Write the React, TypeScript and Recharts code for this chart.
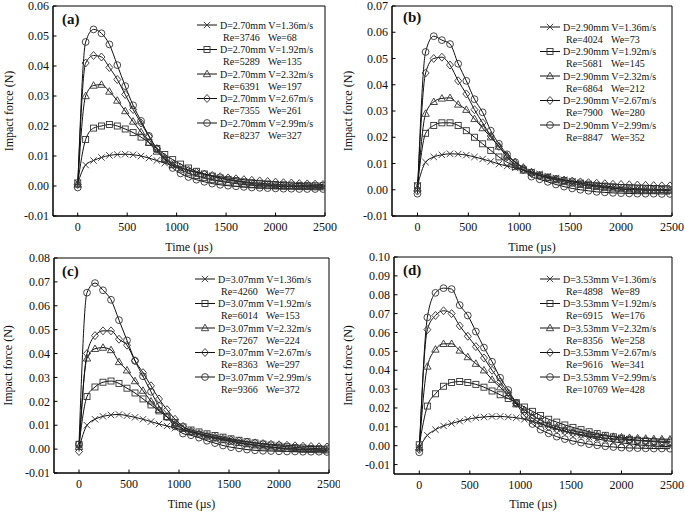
import React from 'react';
import { LineChart, Line, XAxis, YAxis, ReferenceArea, Legend } from 'recharts';

// sampling instants (µs)
const time = [0, 80, 160, 240, 320, 400, 480, 560, 640, 720, 800, 880, 960, 1040, 1120, 1200,
  1280, 1360, 1440, 1520, 1600, 1680, 1760, 1840, 1920, 2000, 2080, 2160, 2240, 2320, 2400, 2480];

// (a) D = 2.70 mm
const a136 = [0.001, 0.007, 0.0085, 0.0095, 0.0102, 0.0105, 0.0106, 0.0104, 0.01, 0.0093, 0.0085, 0.0076, 0.0068, 0.006, 0.0052, 0.0045,
  0.0038, 0.0032, 0.0026, 0.0021, 0.0016, 0.0012, 0.0008, 0.0005, 0.0003, 0.0001, 0, -0.0001, -0.0002, -0.0002, -0.0003, -0.0003];
const a192 = [0.001, 0.0155, 0.0193, 0.02, 0.0205, 0.02, 0.019, 0.0178, 0.0163, 0.0145, 0.0125, 0.0105, 0.0088, 0.0073, 0.006, 0.0049,
  0.004, 0.0033, 0.0027, 0.0022, 0.0018, 0.0014, 0.0011, 0.0009, 0.0007, 0.0005, 0.0004, 0.0003, 0.0002, 0.0002, 0.0001, 0.0001];
const a232 = [0.0005, 0.03, 0.0335, 0.0338, 0.0315, 0.0285, 0.025, 0.0215, 0.018, 0.0145, 0.0115, 0.009, 0.007, 0.0055, 0.0043, 0.0034,
  0.0027, 0.0021, 0.0016, 0.0012, 0.0008, 0.0005, 0.0003, 0.0001, 0, -0.0001, -0.0002, -0.0002, -0.0003, -0.0003, -0.0004, -0.0004];
const a267 = [0.0005, 0.041, 0.0435, 0.043, 0.0395, 0.0355, 0.0305, 0.0255, 0.021, 0.0165, 0.0125, 0.0095, 0.0075, 0.0062, 0.0053, 0.0046,
  0.004, 0.0035, 0.0031, 0.0027, 0.0024, 0.0021, 0.0019, 0.0017, 0.0015, 0.0013, 0.0011, 0.001, 0.0008, 0.0007, 0.0006, 0.0005];
const a299 = [-0.0005, 0.048, 0.0522, 0.0509, 0.0472, 0.0403, 0.0333, 0.0269, 0.0217, 0.0167, 0.0122, 0.0088, 0.006, 0.0042, 0.003, 0.0021,
  0.0014, 0.0008, 0.0004, 0.0001, -0.0001, -0.0003, -0.0005, -0.0006, -0.0007, -0.0008, -0.0009, -0.0009, -0.001, -0.001, -0.001, -0.001];

// (b) D = 2.90 mm
const b136 = [0.0015, 0.0105, 0.0125, 0.0133, 0.0137, 0.0136, 0.0132, 0.0125, 0.0117, 0.0108, 0.0098, 0.009, 0.0083, 0.0075, 0.0068, 0.006,
  0.0052, 0.0045, 0.0038, 0.0031, 0.0025, 0.0019, 0.0014, 0.001, 0.0006, 0.0003, 0.0001, 0, -0.0001, -0.0002, -0.0002, -0.0003];
const b192 = [0.0015, 0.0215, 0.0245, 0.0255, 0.0255, 0.0245, 0.0225, 0.02, 0.0175, 0.015, 0.0125, 0.0105, 0.0088, 0.0075, 0.0065, 0.0056,
  0.0048, 0.0041, 0.0035, 0.003, 0.0025, 0.0021, 0.0017, 0.0014, 0.0011, 0.0008, 0.0006, 0.0004, 0.0003, 0.0002, 0.0001, 0];
const b232 = [0.0005, 0.029, 0.0335, 0.0348, 0.035, 0.0325, 0.0305, 0.027, 0.0235, 0.02, 0.0165, 0.013, 0.0105, 0.0085, 0.0068, 0.0055,
  0.0045, 0.0037, 0.003, 0.0024, 0.0019, 0.0015, 0.0011, 0.0008, 0.0005, 0.0003, 0.0001, 0, -0.0001, -0.0002, -0.0002, -0.0003];
const b267 = [-0.0005, 0.0445, 0.05, 0.0505, 0.0475, 0.0415, 0.0365, 0.0305, 0.0255, 0.0205, 0.0165, 0.0125, 0.0095, 0.0075, 0.0062, 0.0053,
  0.0046, 0.0041, 0.0037, 0.0033, 0.003, 0.0027, 0.0025, 0.0023, 0.0021, 0.002, 0.0019, 0.0018, 0.0017, 0.0016, 0.0015, 0.0015];
const b299 = [-0.0015, 0.0525, 0.0585, 0.057, 0.0555, 0.048, 0.0415, 0.0345, 0.0295, 0.0225, 0.0175, 0.0135, 0.0105, 0.008, 0.005, 0.004,
  0.003, 0.002, 0.0012, 0.0005, 0, -0.0004, -0.0008, -0.001, -0.0012, -0.0013, -0.0014, -0.0015, -0.0015, -0.0015, -0.0016, -0.0016];

// (c) D = 3.07 mm
const c136 = [0.0005, 0.01, 0.0125, 0.0137, 0.0143, 0.0145, 0.014, 0.0133, 0.0125, 0.0115, 0.0105, 0.0097, 0.0088, 0.008, 0.0072, 0.0064,
  0.0056, 0.0048, 0.0041, 0.0034, 0.0028, 0.0022, 0.0017, 0.0012, 0.0008, 0.0005, 0.0002, 0, -0.0002, -0.0003, -0.0004, -0.0005];
const c192 = [0.002, 0.022, 0.026, 0.028, 0.0285, 0.0275, 0.0255, 0.0235, 0.021, 0.0185, 0.016, 0.0135, 0.0112, 0.0093, 0.008, 0.0072,
  0.0064, 0.0057, 0.005, 0.0043, 0.0037, 0.0031, 0.0026, 0.0021, 0.0017, 0.0013, 0.001, 0.0007, 0.0005, 0.0003, 0.0002, 0.0001];
const c232 = [0.001, 0.038, 0.042, 0.0425, 0.0415, 0.0365, 0.033, 0.0285, 0.0245, 0.02, 0.0165, 0.0135, 0.0105, 0.0085, 0.0072, 0.0062,
  0.0053, 0.0045, 0.0038, 0.0032, 0.0026, 0.0021, 0.0016, 0.0012, 0.0008, 0.0005, 0.0002, 0, -0.0002, -0.0003, -0.0004, -0.0005];
const c267 = [-0.001, 0.04, 0.0475, 0.0495, 0.0495, 0.046, 0.0435, 0.037, 0.032, 0.0265, 0.021, 0.0165, 0.0125, 0.0095, 0.0075, 0.0065,
  0.0057, 0.005, 0.0044, 0.0039, 0.0034, 0.003, 0.0026, 0.0023, 0.002, 0.0018, 0.0016, 0.0014, 0.0012, 0.0011, 0.001, 0.0009];
const c299 = [0.002, 0.0655, 0.0695, 0.0665, 0.0625, 0.054, 0.0455, 0.037, 0.0305, 0.024, 0.018, 0.0135, 0.0095, 0.0065, 0.0058, 0.0048,
  0.0035, 0.0025, 0.0015, 0.0008, 0.0003, -0.0002, -0.0005, -0.0007, -0.0008, -0.0009, -0.001, -0.001, -0.0011, -0.0011, -0.0011, -0.0012];

// (d) D = 3.53 mm
const d136 = [-0.001, 0.0055, 0.0085, 0.0105, 0.0118, 0.013, 0.014, 0.0148, 0.0152, 0.0155, 0.0155, 0.0152, 0.0148, 0.014, 0.0128, 0.0115,
  0.0103, 0.009, 0.0078, 0.0066, 0.0055, 0.0045, 0.0036, 0.0028, 0.0021, 0.0015, 0.001, 0.0005, 0.0001, -0.0002, -0.0004, -0.0005];
const d192 = [0.0005, 0.021, 0.0275, 0.0315, 0.0335, 0.034, 0.0335, 0.0325, 0.031, 0.029, 0.027, 0.025, 0.0228, 0.0205, 0.0182, 0.016,
  0.014, 0.0125, 0.011, 0.0097, 0.0085, 0.0074, 0.0064, 0.0055, 0.0047, 0.004, 0.0034, 0.0029, 0.0025, 0.0021, 0.0018, 0.0015];
const d232 = [-0.001, 0.042, 0.051, 0.054, 0.054, 0.0505, 0.047, 0.0435, 0.04, 0.035, 0.031, 0.0265, 0.022, 0.019, 0.016, 0.0135,
  0.0115, 0.01, 0.0088, 0.0078, 0.007, 0.0063, 0.0057, 0.0052, 0.0048, 0.0045, 0.0042, 0.004, 0.0038, 0.0036, 0.0035, 0.0034];
const d267 = [-0.002, 0.0615, 0.069, 0.0715, 0.07, 0.0635, 0.058, 0.0525, 0.0465, 0.04, 0.034, 0.028, 0.0225, 0.018, 0.0145, 0.012,
  0.01, 0.0087, 0.0076, 0.0067, 0.0059, 0.0052, 0.0046, 0.0041, 0.0037, 0.0034, 0.0031, 0.0029, 0.0027, 0.0025, 0.0024, 0.0023];
const d299 = [-0.0035, 0.068, 0.081, 0.0835, 0.083, 0.0745, 0.069, 0.0605, 0.052, 0.0445, 0.036, 0.0295, 0.0225, 0.016, 0.0115, 0.0085,
  0.0065, 0.0048, 0.0035, 0.0025, 0.0016, 0.0008, 0.0002, -0.0003, -0.0007, -0.001, -0.0012, -0.0013, -0.0014, -0.0015, -0.0015, -0.0016];

const velocities = ['1.36', '1.92', '2.32', '2.67', '2.99'];
const diameters = ['2.70', '2.90', '3.07', '3.53'];
const reynolds = [
  [3746, 5289, 6391, 7355, 8237],
  [4024, 5681, 6864, 7900, 8847],
  [4260, 6014, 7267, 8363, 9366],
  [4898, 6915, 8356, 9616, 10769],
];
const weber = [
  [68, 135, 197, 261, 327],
  [73, 145, 212, 280, 352],
  [77, 153, 224, 297, 372],
  [89, 176, 258, 341, 428],
];
const tags = ['(a)', '(b)', '(c)', '(d)'];
const shapes = ['cross', 'square', 'triangle', 'diamond', 'circle'];

const xTicks = [0, 500, 1000, 1500, 2000, 2500];
const yTicksA = [-0.01, 0, 0.01, 0.02, 0.03, 0.04, 0.05, 0.06];
const yTicksB = [-0.01, 0, 0.01, 0.02, 0.03, 0.04, 0.05, 0.06, 0.07];
const yTicksC = [-0.01, 0, 0.01, 0.02, 0.03, 0.04, 0.05, 0.06, 0.07, 0.08];
const yTicksD = [-0.01, 0, 0.01, 0.02, 0.03, 0.04, 0.05, 0.06, 0.07, 0.08, 0.09, 0.1];

const FONT = '"Liberation Serif", "Times New Roman", serif';
const INK = '#111';

const Marker = ({ shape, cx, cy }: { shape: string; cx: number; cy: number }) => {
  const st = { fill: 'none', stroke: '#333', strokeWidth: 0.9 };
  if (cx == null || cy == null) return null;
  switch (shape) {
    case 'cross':
      return <path d={`M${cx - 3.2},${cy - 3.2}L${cx + 3.2},${cy + 3.2}M${cx - 3.2},${cy + 3.2}L${cx + 3.2},${cy - 3.2}`} {...st} />;
    case 'square':
      return <rect x={cx - 3} y={cy - 3} width={6} height={6} {...st} />;
    case 'triangle':
      return <path d={`M${cx},${cy - 3.8}L${cx + 3.7},${cy + 2.7}L${cx - 3.7},${cy + 2.7}Z`} {...st} />;
    case 'diamond':
      return <path d={`M${cx},${cy - 4}L${cx + 3.5},${cy}L${cx},${cy + 4}L${cx - 3.5},${cy}Z`} {...st} />;
    default:
      return <circle cx={cx} cy={cy} r={3.4} {...st} />;
  }
};

const XTick = (props: any) => {
  const { x, y, payload } = props;
  return (
    <g>
      <line x1={x} x2={x} y1={y} y2={y - 3.5} stroke="#000" />
      <text x={x} y={y + 14.5} textAnchor="middle" fontSize={12} fontFamily={FONT} fill={INK}>
        {payload.value}
      </text>
    </g>
  );
};

const YTick = (props: any) => {
  const { x, y, payload } = props;
  return (
    <g>
      <line x1={x} x2={x + 3.5} y1={y} y2={y} stroke="#000" />
      <text x={x - 4} y={y + 4.2} textAnchor="end" fontSize={12} fontFamily={FONT} fill={INK}>
        {payload.value.toFixed(2)}
      </text>
    </g>
  );
};

type PanelProps = {
  idx: number;
  series: number[][];
  yDomain: [number, number];
  yTicks: number[];
  left: number;
  top: number;
  width: number;
  height: number;
  margin: { top: number; right: number; bottom: number; left: number };
  xAxisHeight: number;
  yLabelOffset: number;
  legendAt: [number, number];
  tagAt: [number, number];
};

const Panel = ({ idx, series, yDomain, yTicks, left, top, width, height, margin, xAxisHeight, yLabelOffset, legendAt, tagAt }: PanelProps) => {
  const rows = time.map((t, i) => {
    const row: any = { t };
    series.forEach((s, k) => {
      row[`s${k}`] = s[i];
    });
    return row;
  });
  const [lx, ly] = legendAt;

  const overlay = () => (
    <svg width={width} height={height} style={{ position: 'absolute', left: 0, top: 0, overflow: 'visible' }}>
      <text x={tagAt[0]} y={tagAt[1]} fontSize={15} fontWeight="bold" fontFamily={FONT} fill={INK}>
        {tags[idx]}
      </text>
      {velocities.map((v, i) => {
        const yy = ly + 7 + 24.5 * i;
        return (
          <g key={v}>
            <line x1={lx + 2} x2={lx + 22} y1={yy} y2={yy} stroke={INK} strokeWidth={1} />
            <Marker shape={shapes[i]} cx={lx + 12} cy={yy} />
            <text x={lx + 25} y={yy + 3.5} fontSize={10} fontFamily={FONT} fill={INK}>
              {`D=${diameters[idx]}mm V=${v}m/s`}
            </text>
            <text x={lx + 28} y={yy + 15.8} fontSize={10} fontFamily={FONT} fill={INK}>
              {`Re=${reynolds[idx][i]}`}
            </text>
            <text x={lx + 73} y={yy + 15.8} fontSize={10} fontFamily={FONT} fill={INK}>
              {`We=${weber[idx][i]}`}
            </text>
          </g>
        );
      })}
    </svg>
  );

  return (
    <div style={{ position: 'absolute', left, top }}>
      <LineChart width={width} height={height} data={rows} margin={margin}>
        <ReferenceArea x1={-250} x2={2500} y1={yDomain[0]} y2={yDomain[1]} fill="none" stroke="#000" strokeWidth={1} ifOverflow="visible" />
        <XAxis
          dataKey="t"
          type="number"
          domain={[-250, 2500]}
          ticks={xTicks}
          interval={0}
          allowDataOverflow
          height={xAxisHeight}
          tickSize={0}
          tickMargin={0}
          tickLine={false}
          axisLine={{ stroke: '#000' }}
          tick={<XTick />}
          label={{ value: 'Time (µs)', position: 'insideBottom', offset: 5, style: { fontSize: 12, fontFamily: FONT, fill: INK } }}
        />
        <YAxis
          type="number"
          domain={yDomain}
          ticks={yTicks}
          interval={0}
          allowDataOverflow
          width={49}
          tickSize={0}
          tickMargin={0}
          tickLine={false}
          axisLine={{ stroke: '#000' }}
          tick={<YTick />}
          label={{
            value: 'Impact force (N)',
            angle: -90,
            position: 'insideLeft',
            offset: yLabelOffset,
            style: { textAnchor: 'middle', fontSize: 12, fontFamily: FONT, fill: INK },
          }}
        />
        {series.map((_, k) => (
          <Line
            key={k}
            dataKey={`s${k}`}
            type="monotone"
            stroke={INK}
            strokeWidth={1}
            dot={(p: any) => <Marker key={`m${k}-${p.index}`} shape={shapes[k]} cx={p.cx} cy={p.cy} />}
            activeDot={false}
            isAnimationActive={false}
          />
        ))}
        <Legend
          layout="vertical"
          align="center"
          verticalAlign="middle"
          wrapperStyle={{ left: 0, top: 0, width, height, pointerEvents: 'none' }}
          content={overlay}
        />
      </LineChart>
    </div>
  );
};

export default function App() {
  return (
    <div style={{ position: 'absolute', left: 0, top: 0, width: 685, height: 513, background: '#fff', overflow: 'hidden' }}>
      <Panel
        idx={0}
        series={[a136, a192, a232, a267, a299]}
        yDomain={[-0.01, 0.06]}
        yTicks={yTicksA}
        left={0}
        top={0}
        width={340}
        height={256}
        margin={{ top: 6, right: 15, bottom: 0, left: 4 }}
        xAxisHeight={40}
        yLabelOffset={5}
        legendAt={[195, 18]}
        tagAt={[62, 24]}
      />
      <Panel
        idx={1}
        series={[b136, b192, b232, b267, b299]}
        yDomain={[-0.01, 0.07]}
        yTicks={yTicksB}
        left={340}
        top={0}
        width={345}
        height={256}
        margin={{ top: 6, right: 13, bottom: 0, left: 3 }}
        xAxisHeight={40}
        yLabelOffset={5}
        legendAt={[198, 20]}
        tagAt={[63, 22]}
      />
      <Panel
        idx={2}
        series={[c136, c192, c232, c267, c299]}
        yDomain={[-0.01, 0.08]}
        yTicks={yTicksC}
        left={0}
        top={246}
        width={340}
        height={267}
        margin={{ top: 12, right: 11, bottom: 0, left: 5 }}
        xAxisHeight={40}
        yLabelOffset={3}
        legendAt={[193, 26]}
        tagAt={[62, 30]}
      />
      <Panel
        idx={3}
        series={[d136, d192, d232, d267, d299]}
        yDomain={[-0.015, 0.1]}
        yTicks={yTicksD}
        left={340}
        top={246}
        width={345}
        height={267}
        margin={{ top: 11, right: 13, bottom: 0, left: 5 }}
        xAxisHeight={39}
        yLabelOffset={3}
        legendAt={[198, 26]}
        tagAt={[63, 29]}
      />
    </div>
  );
}
